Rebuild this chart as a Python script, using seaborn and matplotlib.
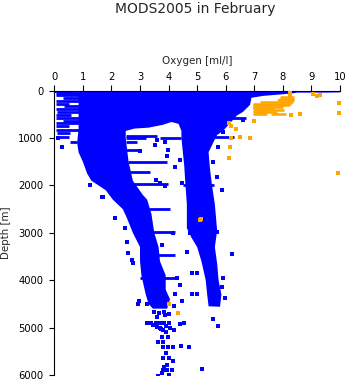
import matplotlib
matplotlib.use("Agg")
import matplotlib.pyplot as plt
import seaborn as sns
import pandas as pd

sns.set_style("white")
plt.rcParams['font.family'] = ['DejaVu Sans']

# ---------------- data ----------------
title = "MODS2005 in February"
x_label = "Oxygen [ml/l]"
y_label = "Depth [m]"
x_ticks = [0, 1, 2, 3, 4, 5, 6, 7, 8, 9, 10]
y_ticks = [0, 1000, 2000, 3000, 4000, 5000, 6000]

# outline of the dense cloud of blue observations (oxygen, depth)
cloud_oxygen = [0.85, 0.85, 0.8, 0.85, 1.0, 1.15, 1.3, 1.8, 2.05, 2.4, 2.55, 2.75, 3.0, 3.0, 3.05, 3.2, 3.3, 3.45,
                3.95,
                4.05, 3.9, 3.9, 3.7, 3.65, 3.5, 3.4, 3.25, 3.1, 2.75, 2.6, 2.5, 2.5,
                2.8, 3.3, 3.8, 4.1, 4.35, 4.45,
                4.45, 4.5, 4.55, 4.58, 4.64, 4.64, 4.8, 5.0, 5.15, 5.3, 5.35, 5.4,
                5.8,
                5.85, 5.75, 5.7, 5.62, 5.7, 5.62, 5.52, 5.45, 5.4, 5.6, 5.7, 5.9, 6.1, 6.4, 6.6, 6.85, 6.9, 7.3, 7.9,
                8.3, 8.5, 9.5, 10.0, 10.0,
                3.0, 3.0]
cloud_depth = [20, 800, 1100, 1300, 1500, 1750, 1900, 2100, 2300, 2500, 2700, 3000, 3300, 3600, 3900, 4300, 4500, 4600,
               4600,
               4400, 4200, 3900, 3600, 3300, 3000, 2600, 2300, 2200, 1900, 1500, 1000, 850,
               800, 780, 720, 660, 700, 850,
               1000, 1300, 1600, 1900, 2400, 2900, 3100, 3300, 3600, 4000, 4300, 4550,
               4560,
               4300, 4000, 3650, 3300, 2950, 2400, 2000, 1650, 1300, 1050, 935, 850, 720, 520, 450, 300, 150, 110, 80,
               60, 40, 40, 35, 0,
               0, 12]

# horizontal runs of blue observations at standard levels (depth, from, to)
run_depth = [0, 40, 100, 160, 220, 280, 330, 390, 450, 510, 570, 630, 690, 750, 830, 900, 980, 1080,
             960, 1000, 1000, 1080, 1250, 1510, 1720, 1970, 2500, 2980, 3470, 3950,
             580, 970, 2000]
run_from = [0.0, 0.05, 0.05, 0.3, 0.05, 0.05, 0.35, 0.05, 0.1, 0.05, 0.05, 0.3, 0.05, 0.05, 0.05, 0.1, 0.15, 0.55,
            2.5, 2.5, 3.7, 2.5, 2.5, 2.58, 2.58, 2.75, 3.3, 3.45, 3.6, 3.0,
            6.2, 5.5, 4.5]
run_to = [0.75, 0.85, 0.85, 0.85, 0.85, 0.5, 0.85, 0.85, 0.85, 0.6, 0.85, 0.85, 0.85, 0.5, 0.85, 0.55, 0.5, 0.8,
          3.6, 3.2, 4.45, 2.9, 3.0, 3.95, 3.35, 3.98, 4.05, 4.22, 4.22, 4.33,
          6.7, 6.3, 5.6]

# scattered blue observations (oxygen, depth)
blue_oxygen = [3.53, 3.0, 3.6, 3.88, 3.98, 3.95, 4.22, 4.4, 3.56, 3.88, 4.64, 5.72, 5.9, 5.87, 5.7, 5.56,
               0.27, 0.13, 1.25, 1.67, 5.87, 6.6,
               1.71, 2.13, 2.48, 2.55, 2.58, 2.72, 2.75, 3.77, 4.16, 4.47, 3.7, 4.3,
               6.22, 5.9, 5.7, 4.82, 5.0, 4.64, 4.75, 5.56, 4.82,
               4.4, 4.82, 5.0, 4.22, 2.97, 2.93, 3.24, 4.19, 4.47, 3.6, 3.88, 3.24, 3.4, 3.55, 3.7, 3.85, 4.0,
               4.4, 4.55, 3.7, 3.8, 3.9, 3.77, 3.98, 3.63, 3.8, 3.8, 3.98, 4.15, 4.44, 4.72, 3.91, 3.8, 4.01,
               4.15, 3.95, 3.84, 3.8, 3.95, 4.12, 3.77, 4.01, 3.63, 5.17, 5.56, 5.72, 5.87, 5.98,
               3.45, 3.6, 3.75, 3.9, 4.05, 4.2, 3.5, 3.65, 3.85, 4.0]
blue_depth = [1150, 1270, 1040, 1080, 1250, 1380, 1610, 1460, 1890, 2010, 1670, 1190, 870, 2100, 1820, 1500,
              1190, 1000, 1990, 2240, 830, 620,
              2240, 2690, 2900, 3190, 3430, 3580, 3640, 3260, 3000, 1950, 1950, 3950,
              3450, 3950, 2980, 3850, 3850, 3400, 3010, 4380, 4280,
              4100, 4280, 4280, 4280, 4440, 4500, 4500, 4550, 4440, 4780, 4740, 4900, 4900, 4900, 4900, 4900, 4900,
              4930, 4900, 5000, 5050, 5100, 5200, 5200, 5300, 5300, 5410, 5410, 5410, 5390, 5410, 5540, 5640, 5640,
              5700, 5790, 5840, 5900, 5900, 5900, 5960, 5990, 6020, 5880, 4820, 4970, 4140, 4380,
              4950, 4980, 5020, 4960, 5000, 5050, 4680, 4700, 4660, 4720]

# orange observations: runs (depth, from, to) and single points (oxygen, depth)
orange_run_depth = [130, 170, 200, 240, 280, 310, 340, 370, 400, 440, 490, 490]
orange_run_from = [7.9, 7.85, 7.8, 7.2, 6.95, 6.95, 6.95, 6.95, 6.95, 6.95, 6.95, 7.6]
orange_run_to = [8.4, 8.4, 8.4, 8.35, 8.3, 8.2, 8.0, 7.7, 8.05, 7.8, 7.45, 8.1]
orange_oxygen = [8.25, 8.25, 8.25, 9.05, 9.3, 9.2, 9.95, 9.95, 8.6, 8.3, 7.0, 6.1, 6.2, 6.36, 6.2, 6.5,
                 6.85, 6.15, 6.1, 9.93, 5.1, 5.15, 4.0, 4.33]
orange_depth = [20, 60, 100, 80, 90, 120, 250, 480, 490, 510, 640, 680, 745, 810, 1000, 970,
                1000, 1180, 1420, 1740, 2730, 2700, 4500, 4690]

BLUE = "#0000ff"
ORANGE = "#ffa500"

# ---------------- figure ----------------
fig = plt.figure(figsize=(3.48, 3.84), dpi=100)
ax = fig.add_axes([54.3 / 348, 1 - 375 / 384, (340 - 54.3) / 348, (375 - 90.7) / 384])

ax.fill(cloud_oxygen, cloud_depth, color=BLUE, lw=0, zorder=2)
ax.hlines(run_depth, run_from, run_to, color=BLUE, lw=2.0, zorder=2)

blue_df = pd.DataFrame({"oxygen": blue_oxygen, "depth": blue_depth})
sns.scatterplot(data=blue_df, x="oxygen", y="depth", ax=ax, color=BLUE, marker="s", s=5,
                linewidth=0, zorder=3, legend=False)

ax.hlines(orange_run_depth, orange_run_from, orange_run_to, color=ORANGE, lw=1.8, zorder=4)
orange_df = pd.DataFrame({"oxygen": orange_oxygen, "depth": orange_depth})
sns.scatterplot(data=orange_df, x="oxygen", y="depth", ax=ax, color=ORANGE, marker="s", s=5,
                linewidth=0, zorder=5, legend=False)

ax.set_xlim(0, 10)
ax.set_ylim(6000, 0)
ax.set_xticks(x_ticks)
ax.set_yticks(y_ticks)
ax.xaxis.tick_top()
ax.xaxis.set_label_position('top')
ax.set_xlabel(x_label, fontsize=7.4, labelpad=6)
ax.set_ylabel(y_label, fontsize=7.4, labelpad=5)
ax.tick_params(axis='x', direction='out', length=4.3, width=0.8, labelsize=7.2, pad=2,
               top=True, bottom=False, color='black', labelcolor='black')
ax.tick_params(axis='y', direction='out', length=3.5, width=0.8, labelsize=7.2, pad=4.5,
               left=True, right=False, color='black', labelcolor='black')
for side in ['right', 'bottom']:
    ax.spines[side].set_visible(False)
for side in ['top', 'left']:
    ax.spines[side].set_color('black')
    ax.spines[side].set_linewidth(0.8)
ax.set_facecolor('white')

fig.text(195.5 / 348, 1 - 9 / 384, title, ha='center', va='center', fontsize=10)

fig.savefig("out.png", dpi=100, facecolor='white')
